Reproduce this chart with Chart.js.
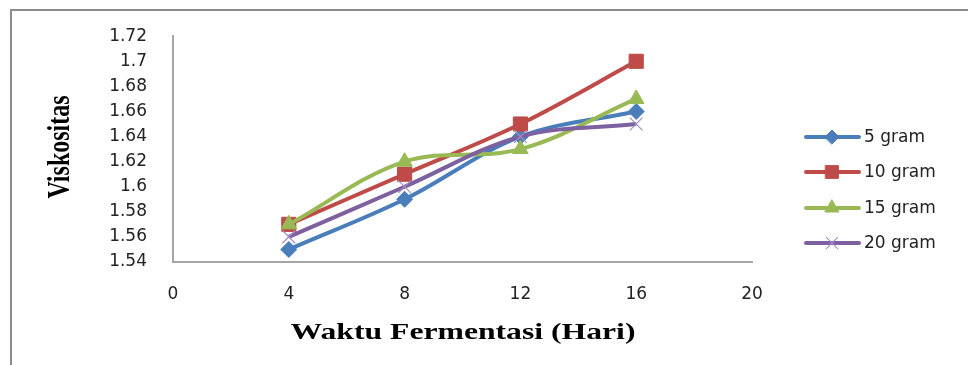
<!DOCTYPE html>
<html>
<head>
<meta charset="utf-8">
<script src="https://cdn.jsdelivr.net/npm/chart.js@4/dist/chart.umd.min.js"></script>
<style>
html,body{margin:0;padding:0;background:#fff;overflow:hidden}
#wadah{width:968px;height:365px}
</style>
</head>
<body>
<div id="wadah"><canvas id="grafik"></canvas></div>
<script>
// data
var hari = [4, 8, 12, 16];
var namaSeri = ["5 gram", "10 gram", "15 gram", "20 gram"];
var gram5 = [1.55, 1.59, 1.64, 1.66];
var gram10 = [1.57, 1.61, 1.65, 1.70];
var gram15 = [1.57, 1.62, 1.63, 1.67];
var gram20 = [1.56, 1.60, 1.64, 1.65];
var judulX = "Waktu Fermentasi (Hari)";
var judulY = "Viskositas";

var warna = ["#4a7ebb", "#be4b48", "#98b954", "#7d60a0"];
var bentuk = ["rectRot", "rect", "triangle", "crossRot"];
var ukuran = [8, 10, 9, 9];
var huruf = "'DejaVu Sans', sans-serif";

var nilai = [gram5, gram10, gram15, gram20];
var datasets = nilai.map(function(v, i){
    return {
        label: namaSeri[i],
        data: hari.map(function(h, j){ return {x: h, y: v[j]}; }),
        borderColor: warna[i],
        backgroundColor: warna[i],
        borderWidth: 4,
        tension: 0.35,
        pointStyle: bentuk[i],
        pointRadius: ukuran[i],
        pointHoverRadius: ukuran[i],
        pointBorderWidth: i == 3 ? 1.2 : 1,
        pointBorderColor: i == 3 ? "#a48fc4" : warna[i],
        order: 4 - i
    };
});

// bingkai, judul sumbu dan legenda digambar sendiri
var hiasan = {
    id: "hiasan",
    beforeDraw: function(chart){
        var c = chart.ctx;
        c.save();
        c.strokeStyle = "#8c8c8c";
        c.lineWidth = 2;
        c.beginPath();
        c.moveTo(11, 366); c.lineTo(11, 10); c.lineTo(970, 10);
        c.stroke();
        c.restore();
    },
    afterDraw: function(chart){
        var c = chart.ctx;
        c.save();
        c.fillStyle = "#000";
        c.font = "bold 24px 'Liberation Serif', serif";
        c.textAlign = "center";
        c.textBaseline = "middle";
        // judul x
        c.save();
        c.translate(463, 333);
        c.scale(1.32, 1);
        c.fillText(judulX, 0, 0);
        c.restore();
        // judul y
        c.save();
        c.translate(61, 147);
        c.rotate(-Math.PI / 2);
        c.scale(1, 1.35);
        c.fillText(judulY, 0, 0);
        c.restore();

        // legenda
        var barisY = [137, 172, 208, 243];
        for (let i = 0; i < namaSeri.length; i++) {
            c.strokeStyle = warna[i];
            c.lineWidth = 4;
            c.lineCap = "round";
            c.beginPath();
            c.moveTo(806, barisY[i]); c.lineTo(859, barisY[i]);
            c.stroke();
            c.fillStyle = warna[i];
            c.strokeStyle = i == 3 ? "#a48fc4" : warna[i];
            c.lineWidth = i == 3 ? 1.2 : 1;
            Chart.helpers.drawPoint(c, {pointStyle: bentuk[i], radius: ukuran[i] - 1, rotation: 0, borderWidth: c.lineWidth}, 832, barisY[i]);
            c.fillStyle = "#222";
            c.font = "17px " + huruf;
            c.textAlign = "left";
            c.textBaseline = "middle";
            c.fillText(namaSeri[i], 864, barisY[i] + 1);
        }
        c.restore();
    }
};

var ctx = document.getElementById("grafik").getContext("2d");
var chart = new Chart(ctx, {
    type: "line",
    data: { datasets: datasets },
    plugins: [hiasan],
    options: {
        responsive: true,
        maintainAspectRatio: false,
        animation: false,
        layout: { padding: { left: 0, top: 32, right: 216, bottom: 0 } },
        plugins: { legend: { display: false }, tooltip: { enabled: false } },
        scales: {
            x: {
                type: "linear", min: 0, max: 20,
                ticks: { stepSize: 4, padding: 22, color: "#222", font: { family: huruf, size: 17 } },
                grid: { display: false, drawTicks: false },
                border: { color: "#a6a6a6", width: 2 },
                afterFit: function(s){ s.height = 103; }
            },
            y: {
                min: 1.54, max: 1.72,
                ticks: {
                    stepSize: 0.02, padding: 26, color: "#222", font: { family: huruf, size: 17 },
                    callback: function(v){ return String(+v.toFixed(2)); }
                },
                grid: { display: false, drawTicks: false },
                border: { color: "#a6a6a6", width: 2 },
                afterFit: function(s){ s.width = 173; }
            }
        }
    }
});
</script>
</body>
</html>
